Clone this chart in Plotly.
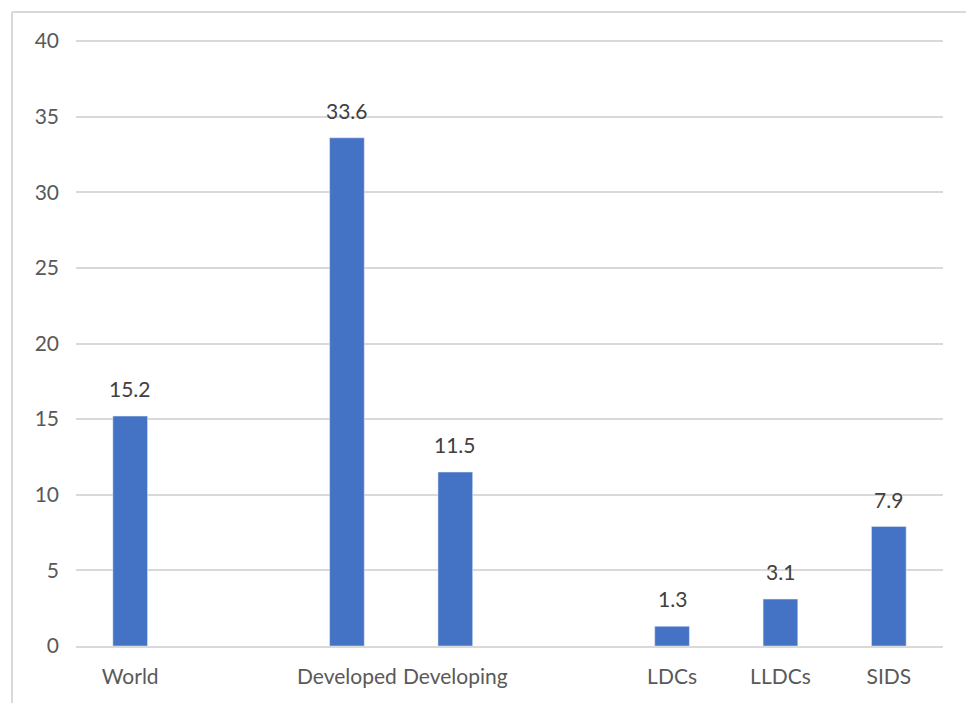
import plotly.graph_objects as go

categories = ["World", " ", "Developed", "Developing", "  ", "LDCs", "LLDCs", "SIDS"]
tick_labels = ["World", "", "Developed", "Developing", "", "LDCs", "LLDCs", "SIDS"]
values = [15.2, None, 33.6, 11.5, None, 1.3, 3.1, 7.9]
y_ticks = [0, 5, 10, 15, 20, 25, 30, 35, 40]

font_family = "Lato, Open Sans, Liberation Sans, Arial, sans-serif"
text_color = "#595959"
grid_color = "#d9d9d9"
fs = 21

fig = go.Figure()
fig.add_trace(go.Bar(
    x=categories, y=values, marker_color="#4472C4", width=0.32,
    hoverinfo="skip",
))

for c, v in zip(categories, values):
    if v is None:
        continue
    fig.add_annotation(
        x=c, y=v, text=f"{v:.1f}", showarrow=False, yanchor="bottom",
        yshift=13, font=dict(family=font_family, size=fs, color="#404040"),
    )

fig.update_layout(
    width=966, height=703,
    margin=dict(l=76, r=23, t=38, b=57),
    paper_bgcolor="white", plot_bgcolor="white",
    showlegend=False,
    font=dict(family=font_family, size=fs, color=text_color),
)
fig.update_xaxes(
    type="category", categoryorder="array", categoryarray=categories,
    tickmode="array", tickvals=categories, ticktext=tick_labels,
    showgrid=False, showline=True, linecolor=grid_color, linewidth=1.5,
    ticks="", ticklabelstandoff=11, zeroline=False,
    tickfont=dict(family=font_family, size=fs, color=text_color),
)
fig.update_yaxes(
    range=[0, 40.2], tickmode="array", tickvals=y_ticks,
    showgrid=True, gridcolor=grid_color, gridwidth=1.5,
    zeroline=False, showline=False, ticks="", ticklabelstandoff=16,
    tickfont=dict(family=font_family, size=fs, color=text_color),
)

# outer border (left and top edges)
ph = 703 - 38 - 57
fig.add_shape(type="line", xref="paper", yref="paper",
              x0=-64/867, x1=-64/867, y0=-57/ph, y1=1 + 26/ph,
              line=dict(color="#d9d9d9", width=2))
fig.add_shape(type="line", xref="paper", yref="paper",
              x0=-64/867, x1=1 + 23/867, y0=1 + 26/ph, y1=1 + 26/ph,
              line=dict(color="#d9d9d9", width=2))

fig.write_html("out.html")
